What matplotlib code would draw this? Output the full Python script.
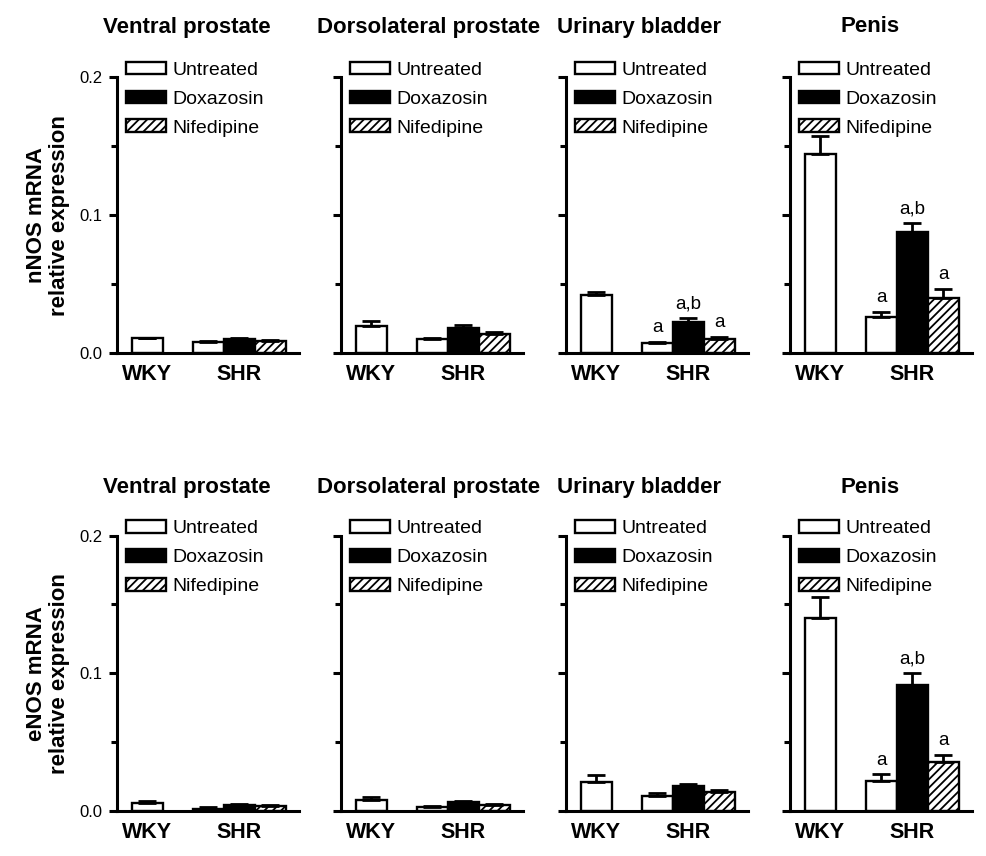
import matplotlib
matplotlib.use("Agg")
import matplotlib.pyplot as plt
from matplotlib.patches import Patch
from matplotlib.ticker import FixedLocator
import numpy as np

plt.rcParams['font.family'] = ['Liberation Sans', 'DejaVu Sans']
plt.rcParams['hatch.linewidth'] = 1.3

tissues = ["Ventral prostate", "Dorsolateral prostate", "Urinary bladder", "Penis"]
groups = ["WKY", "SHR"]
treatments = ["Untreated", "Doxazosin", "Nifedipine"]
genes = ["nNOS mRNA\nrelative expression", "eNOS mRNA\nrelative expression"]

# order per panel: WKY untreated, SHR untreated, SHR doxazosin, SHR nifedipine
nnos_mean = [
    [0.0109, 0.0084, 0.0105, 0.0091],
    [0.0196, 0.0106, 0.0181, 0.0140],
    [0.0420, 0.0074, 0.0228, 0.0102],
    [0.1442, 0.0265, 0.0881, 0.0403],
]
nnos_err = [
    [0.0005, 0.0004, 0.0005, 0.0004],
    [0.0038, 0.0006, 0.0026, 0.0012],
    [0.0026, 0.0008, 0.0028, 0.0016],
    [0.0128, 0.0035, 0.0061, 0.0065],
]
enos_mean = [
    [0.0061, 0.0017, 0.0041, 0.0036],
    [0.0080, 0.0031, 0.0065, 0.0045],
    [0.0210, 0.0107, 0.0184, 0.0138],
    [0.1399, 0.0215, 0.0918, 0.0355],
]
enos_err = [
    [0.0011, 0.0009, 0.0009, 0.0005],
    [0.0019, 0.0005, 0.0010, 0.0008],
    [0.0049, 0.0023, 0.0009, 0.0017],
    [0.0151, 0.0051, 0.0082, 0.0055],
]
nnos_sig = [None, None, ["a", "a,b", "a"], ["a", "a,b", "a"]]
enos_sig = [None, None, None, ["a", "a,b", "a"]]

means = [nnos_mean, enos_mean]
errs = [nnos_err, enos_err]
sigs = [nnos_sig, enos_sig]

W, H = 987, 856
fig = plt.figure(figsize=(W / 100, H / 100), dpi=100)

ax_lefts = [117, 341, 566, 790]
ax_w = 182
row_y0 = [353.3, 811.0]   # pixel y of value 0
row_y1 = [77.0, 535.5]    # pixel y of value 0.2
title_x = [187, 429, 639, 870]
title_y = [27, 488]

# bar positions in units of bar width
bar_x = np.array([0.0, 1.97, 2.97, 3.97])
xlim = (-0.98, 4.89)
faces = ["white", "white", "black", "white"]
hatches = [None, None, None, "////"]

axis_lw = 2.2
bar_lw = 1.7

for r in range(2):
    for c in range(4):
        left = ax_lefts[c] / W
        bottom = (H - row_y0[r]) / H
        height = (row_y0[r] - row_y1[r]) / H
        ax = fig.add_axes([left, bottom, ax_w / W, height])
        m = means[r][c]
        e = errs[r][c]
        for i in range(4):
            ax.bar(bar_x[i], m[i], width=1.0, color=faces[i], edgecolor="black",
                   linewidth=bar_lw, hatch=hatches[i], zorder=2)
        ax.errorbar(bar_x, m, yerr=[np.zeros(4), e], fmt="none", ecolor="black",
                    elinewidth=2.0, capsize=6.5, capthick=2.0, zorder=3)
        s = sigs[r][c]
        if s:
            for i, lab in enumerate(s):
                ax.annotate(lab, (bar_x[i + 1], m[i + 1] + e[i + 1]),
                            xytext=(0, 4), textcoords="offset points",
                            ha="center", va="bottom", fontsize=13.5)
        ax.set_xlim(*xlim)
        ax.set_ylim(0, 0.2)
        for sp in ["top", "right"]:
            ax.spines[sp].set_visible(False)
        for sp in ["left", "bottom"]:
            ax.spines[sp].set_linewidth(axis_lw)
        ax.yaxis.set_major_locator(FixedLocator([0.0, 0.1, 0.2]))
        ax.yaxis.set_minor_locator(FixedLocator([0.05, 0.15]))
        if c == 0:
            ax.set_yticklabels(["0.0", "0.1", "0.2"], fontsize=12)
        else:
            ax.set_yticklabels([])
        ax.tick_params(axis="y", which="major", length=5.5, width=axis_lw, pad=5)
        ax.tick_params(axis="y", which="minor", length=4, width=axis_lw)
        ax.set_xticks([bar_x[0], bar_x[2]])
        ax.set_xticklabels(groups, fontsize=15.5, fontweight="bold")
        ax.tick_params(axis="x", length=0, pad=8)
        ax.set_facecolor("none")

        handles = [Patch(facecolor="white", edgecolor="black", linewidth=bar_lw),
                   Patch(facecolor="black", edgecolor="black", linewidth=bar_lw),
                   Patch(facecolor="white", edgecolor="black", linewidth=bar_lw, hatch="////")]
        ax.legend(handles, treatments, loc="upper left", bbox_to_anchor=(0.05, 1.055),
                  frameon=False, fontsize=14, handlelength=2.06, handleheight=0.62,
                  handletextpad=0.31, labelspacing=0.6, borderpad=0, borderaxespad=0)

        fig.text(title_x[c] / W, 1 - title_y[r] / H, tissues[c], ha="center", va="center",
                 fontsize=16, fontweight="bold")

    fig.text(48 / W, 1 - (row_y0[r] + row_y1[r]) / 2 / H, genes[r], rotation=90,
             ha="center", va="center", fontsize=16, fontweight="bold",
             multialignment="center", linespacing=1.15)

fig.savefig("out.png", dpi=100)
